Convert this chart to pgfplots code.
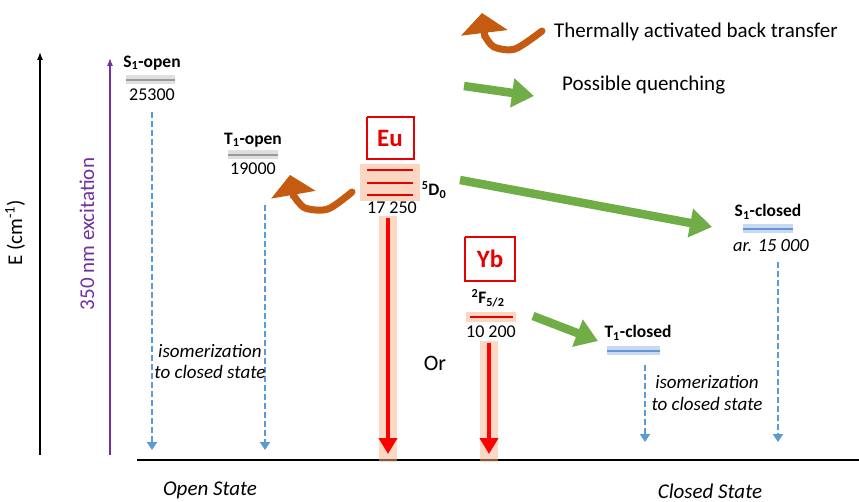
\documentclass[border=0pt]{standalone}
\usepackage{pgfplots}
\pgfplotsset{compat=1.18}
\usepackage{fontspec}
\setmainfont{Carlito}
\usetikzlibrary{arrows.meta}
\definecolor{dashblue}{RGB}{91,155,213}
\definecolor{qgreen}{RGB}{112,173,71}
\definecolor{borange}{RGB}{197,90,17}
\definecolor{glow}{RGB}{248,180,140}
\definecolor{lvlblue}{RGB}{100,150,220}
\definecolor{purp}{RGB}{112,48,160}
\definecolor{eured}{RGB}{230,0,0}
\newcommand\nf{\fontsize{18}{21}\selectfont}
\newcommand\lf{\fontsize{21}{25}\selectfont}
\newcommand\lbf{\bfseries\fontsize{17.5}{20}\selectfont}
\newcommand\itf{\itshape\fontsize{19}{22}\selectfont}
\begin{document}
\begin{tikzpicture}
\begin{axis}[width=859pt,height=502pt,scale only axis,
  xmin=0,xmax=859,ymin=0,ymax=502,y dir=reverse,
  hide axis,clip=false]
\coordinate (bl) at (axis cs:0,502);
\coordinate (tr) at (axis cs:859,0);
% axes
\addplot[black,line width=1.2pt,-{Latex[length=8pt,width=6pt]}] coordinates {(40,455)(40,52)};
\addplot[purp,line width=1.2pt,-{Latex[length=8pt,width=6pt]}] coordinates {(110,455)(110,58)};
\addplot[black,line width=1.5pt] coordinates {(137,460)(859,460)};
\node[rotate=90,inner sep=0pt,font=\lf] at (axis cs:15,233) {E (cm\textsuperscript{-1})};
\node[rotate=90,inner sep=0pt,text=purp,font=\lf] at (axis cs:87,234) {350 nm excitation};
% open-state levels
\addplot[gray!35,line width=9pt,opacity=0.7] coordinates {(126,80)(175,80)};
\addplot[gray!80,line width=1.8pt] coordinates {(126,80)(175,80)};
\addplot[gray!35,line width=9pt,opacity=0.7] coordinates {(228,155)(278,155)};
\addplot[gray!80,line width=1.8pt] coordinates {(228,155)(278,155)};
\node[inner sep=0pt,font=\lbf] at (axis cs:152,63) {S\textsubscript{1}-open};
\node[inner sep=0pt,font=\nf] at (axis cs:152,95) {25300};
\node[inner sep=0pt,font=\lbf] at (axis cs:253,140) {T\textsubscript{1}-open};
\node[inner sep=0pt,font=\nf] at (axis cs:253,169) {19000};
% dashed isomerization arrows
\addplot[dashblue,line width=2.4pt,dash pattern=on 6pt off 3pt,-{Triangle[length=8pt,width=10pt]}] coordinates {(152,112)(152,450)};
\addplot[dashblue,line width=2.4pt,dash pattern=on 6pt off 3pt,-{Triangle[length=8pt,width=10pt]}] coordinates {(265,205)(265,450)};
\addplot[dashblue,line width=2.4pt,dash pattern=on 6pt off 3pt,-{Triangle[length=8pt,width=10pt]}] coordinates {(645,365)(645,442)};
\addplot[dashblue,line width=2.4pt,dash pattern=on 6pt off 3pt,-{Triangle[length=8pt,width=10pt]}] coordinates {(778,262)(778,442)};
\node[inner sep=0pt,font=\itf] at (axis cs:210,351) {isomerization};
\node[inner sep=0pt,font=\itf] at (axis cs:210,372) {to closed state};
\node[inner sep=0pt,font=\itf] at (axis cs:707,382) {isomerization};
\node[inner sep=0pt,font=\itf] at (axis cs:707,404) {to closed state};
% Eu
\addplot[glow,line width=60pt,opacity=0.55] coordinates {(390,164)(390,201)};
\addplot[eured,line width=1.5pt] coordinates {(367,170)(413,170)};
\addplot[eured,line width=1.5pt] coordinates {(367,183)(413,183)};
\addplot[eured,line width=1.5pt] coordinates {(367,195)(413,195)};
\addplot[eured,line width=1.5pt] coordinates {(367,117)(414,117)(414,159)(367,159)(367,117)};
\node[inner sep=0pt,text=eured,font=\bfseries\fontsize{25}{29}\selectfont] at (axis cs:390,138) {Eu};
\node[inner sep=0pt,font=\lbf] at (axis cs:434,190) {\textsuperscript{5}D\textsubscript{0}};
\node[inner sep=0pt,font=\nf] at (axis cs:392,208) {17 250};
\addplot[glow,line width=18pt,opacity=0.5] coordinates {(388,216)(388,462)};
\addplot[red,line width=4pt,-{Triangle[length=16pt,width=18pt]}] coordinates {(388,218)(388,454)};
% Yb
\addplot[eured,line width=1.5pt] coordinates {(465,237)(515,237)(515,281)(465,281)(465,237)};
\node[inner sep=0pt,text=eured,font=\bfseries\fontsize{25}{29}\selectfont] at (axis cs:490,259) {Yb};
\node[inner sep=0pt,font=\lbf] at (axis cs:488,298) {\textsuperscript{2}F\textsubscript{5/2}};
\addplot[glow,line width=10pt,opacity=0.55] coordinates {(466,317)(516,317)};
\addplot[eured,line width=1.5pt] coordinates {(470,317)(513,317)};
\node[inner sep=0pt,font=\nf] at (axis cs:491,332) {10 200};
\addplot[glow,line width=18pt,opacity=0.5] coordinates {(489,341)(489,462)};
\addplot[red,line width=4pt,-{Triangle[length=16pt,width=18pt]}] coordinates {(489,343)(489,454)};
\node[inner sep=0pt,font=\fontsize{22}{26}\selectfont] at (axis cs:435,363) {Or};
% closed levels
\addplot[lvlblue!50,line width=9pt,opacity=0.7] coordinates {(607,351)(660,351)};
\addplot[lvlblue,line width=1.8pt] coordinates {(607,351)(660,351)};
\node[inner sep=0pt,font=\lbf] at (axis cs:638,333) {T\textsubscript{1}-closed};
\addplot[lvlblue!50,line width=9pt,opacity=0.7] coordinates {(743,229)(793,229)};
\addplot[lvlblue,line width=1.8pt] coordinates {(743,229)(793,229)};
\node[inner sep=0pt,font=\lbf] at (axis cs:768,212) {S\textsubscript{1}-closed};
\node[inner sep=0pt,font=\itshape\fontsize{18.5}{22}\selectfont] at (axis cs:771,246) {ar. 15 000};
% quenching arrows
\addplot[qgreen,line width=8.5pt,-{Triangle[length=22pt,width=28pt]}] coordinates {(460,180)(712,227)};
\addplot[qgreen,line width=8.5pt,-{Triangle[length=22pt,width=28pt]}] coordinates {(533,316)(598,341)};
% back transfer arrow (body + head)
\addplot[borange,line width=7pt,smooth,line cap=round] coordinates {(352,192)(328,209)(305,208)(294,196)};
\addplot[borange,line width=7pt,-{Triangle[length=20pt,width=44pt]}] coordinates {(294,198)(290,175)};
% legend
\addplot[borange,line width=7pt,smooth,line cap=round] coordinates {(542,31)(515,49)(494,47)(485,36)};
\addplot[borange,line width=7pt,-{Triangle[length=20pt,width=46pt]}] coordinates {(485,38)(482,13)};
\node[inner sep=0pt,anchor=west,font=\lf] at (axis cs:554,32) {Thermally activated back transfer};
\addplot[qgreen,line width=8.5pt,-{Triangle[length=22pt,width=28pt]}] coordinates {(464,86)(534,96)};
\node[inner sep=0pt,anchor=west,font=\lf] at (axis cs:562,85) {Possible quenching};
% open/closed labels
\node[inner sep=0pt,font=\itshape\fontsize{21}{25}\selectfont] at (axis cs:210,490) {Open State};
\node[inner sep=0pt,font=\itshape\fontsize{21}{25}\selectfont] at (axis cs:710,491) {Closed State};
\end{axis}
\pgfresetboundingbox
\path[use as bounding box] (bl) rectangle (tr);
\end{tikzpicture}
\end{document}
